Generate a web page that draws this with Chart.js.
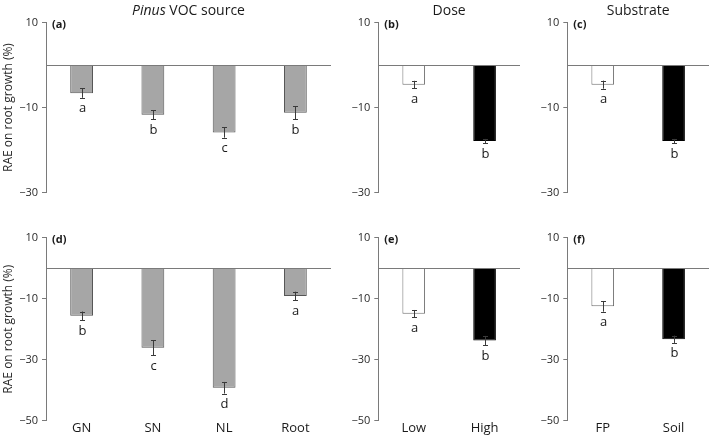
<!DOCTYPE html>
<html>
<head>
<meta charset="utf-8">
<script src="https://cdn.jsdelivr.net/npm/chart.js@4/dist/chart.umd.min.js"></script>
<style>
  body { margin: 0; background: #fff; }
  #wrap { position: relative; width: 709px; height: 435px; overflow: hidden; }
  canvas { position: absolute; }
</style>
</head>
<body>
<div id="wrap">
  <canvas id="pa" style="left:0;top:0"></canvas>
  <canvas id="pb" style="left:343px;top:0"></canvas>
  <canvas id="pc" style="left:532px;top:0"></canvas>
  <canvas id="pd" style="left:0;top:215px"></canvas>
  <canvas id="pe" style="left:343px;top:215px"></canvas>
  <canvas id="pf" style="left:532px;top:215px"></canvas>
</div>
<script>
// categories
const sourceCats = ['GN', 'SN', 'NL', 'Root'];
const doseCats = ['Low', 'High'];
const substrateCats = ['FP', 'Soil'];

// y ticks
const ticksTop = [10, -10, -30];
const ticksBottom = [10, -10, -30, -50];

// top row (a)-(c)
const sourceTop = [-6.6, -11.7, -15.9, -11.2];
const sourceTopErr = [1.1, 1.1, 1.2, 1.5];
const sourceTopLetters = ['a', 'b', 'c', 'b'];
const doseTop = [-4.6, -17.9];
const doseTopErr = [0.9, 0.5];
const doseTopLetters = ['a', 'b'];
const substrateTop = [-4.6, -17.9];
const substrateTopErr = [0.95, 0.5];
const substrateTopLetters = ['a', 'b'];

// bottom row (d)-(f)
const sourceBottom = [-15.6, -26.1, -39.2, -9.1];
const sourceBottomErr = [1.4, 2.5, 1.9, 1.4];
const sourceBottomLetters = ['b', 'c', 'd', 'a'];
const doseBottom = [-14.9, -23.7];
const doseBottomErr = [1.2, 1.5];
const doseBottomLetters = ['a', 'b'];
const substrateBottom = [-12.5, -23.3];
const substrateBottomErr = [1.75, 1.2];
const substrateBottomLetters = ['a', 'b'];

Chart.defaults.font.family = "'Open Sans', sans-serif";
Chart.defaults.color = '#1a1a1a';

const AXIS = '#7a7a7a';
const GRAY = ['#a6a6a6', '#555555'];
const WHITE = ['#ffffff', '#6e6e6e'];
const BLACK = ['#000000', '#000000'];

// zero line, error bars, significance letters, panel tag and column title
const panelPlugin = {
  id: 'panel',
  afterDatasetsDraw(chart, args, opts) {
    const ctx = chart.ctx;
    const area = chart.chartArea;
    const x = chart.scales.x;
    const y = chart.scales.y;
    const ds = chart.data.datasets[0];
    ctx.save();
    // zero line
    const y0 = Math.round(y.getPixelForValue(0)) + 0.5;
    ctx.strokeStyle = AXIS;
    ctx.lineWidth = 1;
    ctx.beginPath();
    ctx.moveTo(area.left, y0);
    ctx.lineTo(area.right, y0);
    ctx.stroke();
    // error bars + letters
    ctx.strokeStyle = '#3a3a3a';
    ctx.fillStyle = '#1a1a1a';
    ctx.font = "13px 'Open Sans', sans-serif";
    ctx.textAlign = 'center';
    ctx.textBaseline = 'alphabetic';
    ds.data.forEach((v, i) => {
      const px = Math.round(x.getPixelForValue(i)) + 0.5;
      const hi = y.getPixelForValue(v + ds.errors[i]);
      const lo = y.getPixelForValue(v - ds.errors[i]);
      ctx.beginPath();
      ctx.moveTo(px, hi); ctx.lineTo(px, lo);
      ctx.moveTo(px - 2.5, Math.round(hi) + 0.5); ctx.lineTo(px + 2.5, Math.round(hi) + 0.5);
      ctx.moveTo(px - 2.5, Math.round(lo) + 0.5); ctx.lineTo(px + 2.5, Math.round(lo) + 0.5);
      ctx.stroke();
      ctx.fillText(ds.letters[i], px, lo + 14.5);
    });
    // panel tag
    ctx.font = "bold 11px 'Open Sans', sans-serif";
    ctx.textAlign = 'left';
    ctx.fillText(opts.tag, area.left + 6, area.top + 5.5);
    // column title
    if (opts.title) {
      const parts = opts.title.map(p => {
        ctx.font = (p[1] ? 'italic ' : '') + "14px 'Open Sans', sans-serif";
        return [p[0], p[1], ctx.measureText(p[0]).width];
      });
      const total = parts.reduce((s, p) => s + p[2], 0);
      let tx = (area.left + area.right) / 2 - total / 2;
      ctx.textBaseline = 'middle';
      parts.forEach(p => {
        ctx.font = (p[1] ? 'italic ' : '') + "14px 'Open Sans', sans-serif";
        ctx.fillText(p[0], tx, 11);
        tx += p[2];
      });
    }
    ctx.restore();
  }
};

function makePanel(id, cfg) {
  const el = document.getElementById(id);
  el.width = cfg.w; el.height = cfg.h;
  el.style.width = cfg.w + 'px'; el.style.height = cfg.h + 'px';
  const bottomRow = cfg.ticks.length === 4;
  return new Chart(el, {
    type: 'bar',
    data: {
      labels: cfg.labels,
      datasets: [{
        data: cfg.data,
        errors: cfg.errors,
        letters: cfg.letters,
        backgroundColor: cfg.colors.map(c => c[0]),
        borderColor: cfg.colors.map(c => c[1]),
        borderWidth: 1,
        categoryPercentage: 1,
        barPercentage: 0.32
      }]
    },
    options: {
      responsive: false,
      animation: false,
      layout: { padding: { top: 22.7, right: cfg.padRight, bottom: bottomRow ? 0 : 8.3, left: 0 } },
      plugins: {
        legend: { display: false },
        tooltip: { enabled: false },
        panel: { tag: cfg.tag, title: cfg.title }
      },
      scales: {
        x: {
          display: bottomRow,
          grid: { display: false, drawTicks: false },
          border: { display: false },
          ticks: { font: { size: 13 }, color: '#1a1a1a', padding: 0 },
          afterFit: s => { s.height = 14.3; }
        },
        y: {
          min: cfg.ticks[cfg.ticks.length - 1],
          max: cfg.ticks[0],
          afterBuildTicks: s => { s.ticks = cfg.ticks.map(v => ({ value: v })); },
          afterFit: s => { s.width = cfg.yWidth; },
          grid: { drawOnChartArea: false, color: AXIS, tickLength: 4 },
          border: { color: AXIS },
          ticks: {
            font: { size: 11 },
            color: '#2a2a2a',
            padding: 4,
            callback: v => (v < 0 ? '\u2212' + Math.abs(v) : v)
          },
          title: {
            display: cfg.yTitle,
            text: 'RAE on root growth (%)',
            font: { size: 12 },
            color: '#2a2a2a',
            padding: { top: 1, bottom: 0 }
          }
        }
      }
    },
    plugins: [panelPlugin]
  });
}

const left = { w: 340, yWidth: 46, padRight: 9, yTitle: true };
const mid = { w: 185, yWidth: 35.3, padRight: 8, yTitle: false };
const right = { w: 177, yWidth: 35.3, padRight: 0, yTitle: false };

makePanel('pa', { ...left, h: 215, ticks: ticksTop, labels: sourceCats, data: sourceTop, errors: sourceTopErr, letters: sourceTopLetters, colors: [GRAY, GRAY, GRAY, GRAY], tag: '(a)', title: [['Pinus', true], [' VOC source', false]] });
makePanel('pb', { ...mid, h: 215, ticks: ticksTop, labels: doseCats, data: doseTop, errors: doseTopErr, letters: doseTopLetters, colors: [WHITE, BLACK], tag: '(b)', title: [['Dose', false]] });
makePanel('pc', { ...right, h: 215, ticks: ticksTop, labels: substrateCats, data: substrateTop, errors: substrateTopErr, letters: substrateTopLetters, colors: [WHITE, BLACK], tag: '(c)', title: [['Substrate', false]] });
makePanel('pd', { ...left, h: 220, ticks: ticksBottom, labels: sourceCats, data: sourceBottom, errors: sourceBottomErr, letters: sourceBottomLetters, colors: [GRAY, GRAY, GRAY, GRAY], tag: '(d)' });
makePanel('pe', { ...mid, h: 220, ticks: ticksBottom, labels: doseCats, data: doseBottom, errors: doseBottomErr, letters: doseBottomLetters, colors: [WHITE, BLACK], tag: '(e)' });
makePanel('pf', { ...right, h: 220, ticks: ticksBottom, labels: substrateCats, data: substrateBottom, errors: substrateBottomErr, letters: substrateBottomLetters, colors: [WHITE, BLACK], tag: '(f)' });
</script>
</body>
</html>
